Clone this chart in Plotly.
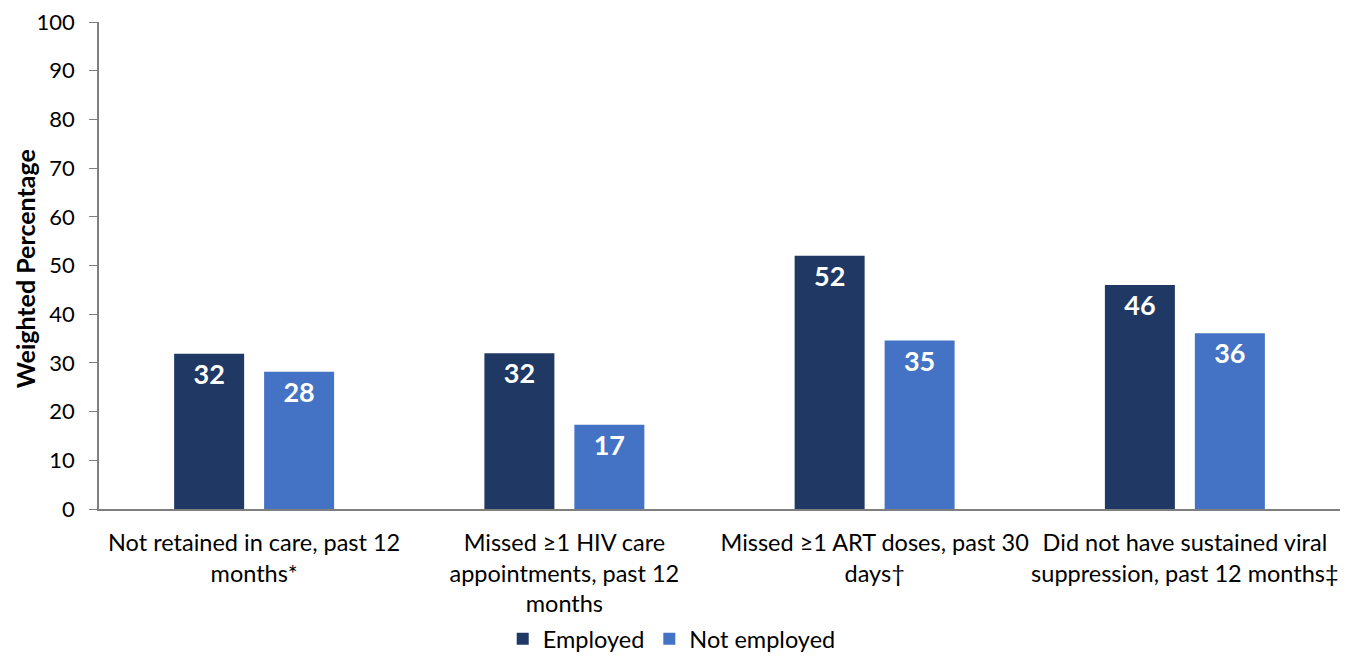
import plotly.graph_objects as go

categories = [
    "Not retained in care, past 12<br>months*",
    "Missed ≥1 HIV care<br>appointments, past 12<br>months",
    "Missed ≥1 ART doses, past 30<br>days†",
    "Did not have sustained viral<br>suppression, past 12 months‡",
]
employed = [31.9, 32.0, 52.0, 46.0]
not_employed = [28.2, 17.3, 34.6, 36.1]
employed_labels = ["32", "32", "52", "46"]
not_employed_labels = ["28", "17", "35", "36"]

FONT = "Lato"

fig = go.Figure()
fig.add_trace(go.Bar(
    x=categories, y=employed, name="Employed",
    marker=dict(color="#203864", line=dict(width=0)),
    text=employed_labels, textposition="inside", insidetextanchor="end",
    textfont=dict(family=FONT, size=27, color="white", weight="bold"),
    textangle=0,
))
fig.add_trace(go.Bar(
    x=categories, y=not_employed, name="Not employed",
    marker=dict(color="#4472c4", line=dict(width=0)),
    text=not_employed_labels, textposition="inside", insidetextanchor="end",
    textfont=dict(family=FONT, size=27, color="white", weight="bold"),
    textangle=0,
))

# page body has an 8px margin, so the figure is 16px smaller than the window
fig.update_layout(
    width=1332, height=648,
    barmode="group", bargap=0.42, bargroupgap=0.222,
    paper_bgcolor="white", plot_bgcolor="white",
    margin=dict(l=91, r=0, t=14, b=147, autoexpand=False),
    font=dict(family=FONT, size=23.5, color="black"),
    showlegend=True,
    legend=dict(orientation="h", x=0.4615, xanchor="center",
                y=-0.267, yanchor="middle",
                font=dict(size=23.5), traceorder="normal"),
    uniformtext=dict(mode="show", minsize=10),
)
fig.add_annotation(
    text="<b>Weighted Percentage</b>", textangle=-90, showarrow=False,
    xref="paper", yref="paper", x=-0.059, y=0.494, xanchor="center", yanchor="middle",
    font=dict(size=25),
)
fig.update_yaxes(
    range=[0, 100], dtick=10, showgrid=False, zeroline=False, automargin=False,
    showline=True, linecolor="#7f7f7f", linewidth=1.5,
    ticks="outside", ticklen=8, tickcolor="#7f7f7f",
    tickfont=dict(size=22), ticklabelstandoff=10, ticklabeloverflow="allow",
)
fig.update_xaxes(
    showgrid=False, showline=True, linecolor="#7f7f7f", linewidth=1.5, automargin=False,
    ticks="", tickfont=dict(size=23.5), ticklabelstandoff=12, ticklabeloverflow="allow",
)

fig.write_html("out.html")
